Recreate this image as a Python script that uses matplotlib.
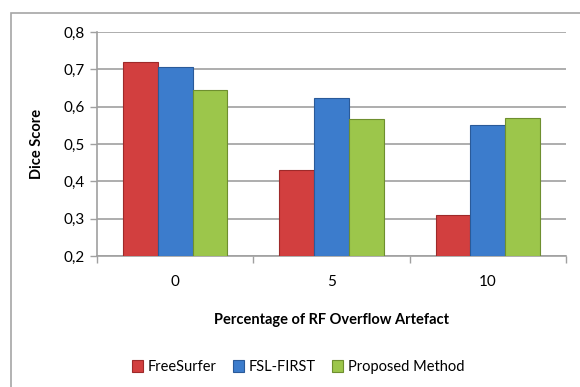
import matplotlib
matplotlib.use("Agg")
import matplotlib.pyplot as plt
import numpy as np
from matplotlib.patches import Rectangle
from matplotlib.ticker import FuncFormatter, FixedLocator

categories = ["0", "5", "10"]
series_names = ["FreeSurfer", "FSL-FIRST", "Proposed Method"]
freesurfer = [0.72, 0.43, 0.31]
fsl_first = [0.707, 0.622, 0.551]
proposed = [0.644, 0.566, 0.570]
yticks = [0.2, 0.3, 0.4, 0.5, 0.6, 0.7, 0.8]

colors = ["#D23F3F", "#3C7CCC", "#9CC64B"]
edges = ["#9E2A2A", "#2A5A99", "#6E8F2F"]

plt.rcParams['font.family'] = ['Lato', 'DejaVu Sans']

fig = plt.figure(figsize=(5.8, 3.87), dpi=100)
W, H = 580, 387
ax = fig.add_axes([97 / W, 1 - 256 / H, (566 - 97) / W, (256 - 32) / H])

# outer chart border
fig.patches.append(Rectangle((11 / W, -0.05), 1.2, 1 - 13 / H + 0.05, transform=fig.transFigure,
                             fill=False, edgecolor="#A6A6A6", linewidth=1.2))

x = np.arange(len(categories))
bw = 0.222
data = [freesurfer, fsl_first, proposed]
for i, (vals, c, e, name) in enumerate(zip(data, colors, edges, series_names)):
    ax.bar(x + (i - 1) * bw, np.array(vals) - 0.2, bottom=0.2, width=bw, color=c,
           edgecolor=e, linewidth=0.8, label=name, zorder=3)

ax.set_ylim(0.2, 0.8)
ax.set_xlim(-0.5, 2.5)
ax.set_yticks(yticks)
ax.yaxis.set_major_formatter(FuncFormatter(lambda v, p: f"{v:.1f}".replace(".", ",")))
ax.grid(axis="y", color="#A0A0A0", linewidth=1.2, zorder=0)
ax.set_xticks(x)
ax.set_xticklabels(categories)
ax.xaxis.set_minor_locator(FixedLocator([-0.5, 0.5, 1.5, 2.5]))
ax.tick_params(axis="x", which="major", length=0, pad=14, labelsize=11, colors="#000000")
ax.tick_params(axis="x", which="minor", length=5, color="#A0A0A0", width=1)
ax.tick_params(axis="y", length=5, color="#A0A0A0", width=1, labelsize=11, pad=4)

for s in ["top", "right"]:
    ax.spines[s].set_visible(False)
for s in ["left", "bottom"]:
    ax.spines[s].set_color("#A0A0A0")
    ax.spines[s].set_linewidth(1.2)

ax.set_ylabel("Dice Score", fontsize=10.5, fontweight="bold", labelpad=14)
ax.set_xlabel("Percentage of RF Overflow Artefact", fontsize=10.5, fontweight="bold", labelpad=17)

handles, labels = ax.get_legend_handles_labels()
fig.legend(handles, labels, loc="center", bbox_to_anchor=(298 / W, 1 - 367 / H), ncol=3,
           frameon=False, fontsize=10.5, handlelength=0.8, handleheight=0.8,
           handletextpad=0.3, columnspacing=1.1)

fig.savefig("out.png", dpi=100)
